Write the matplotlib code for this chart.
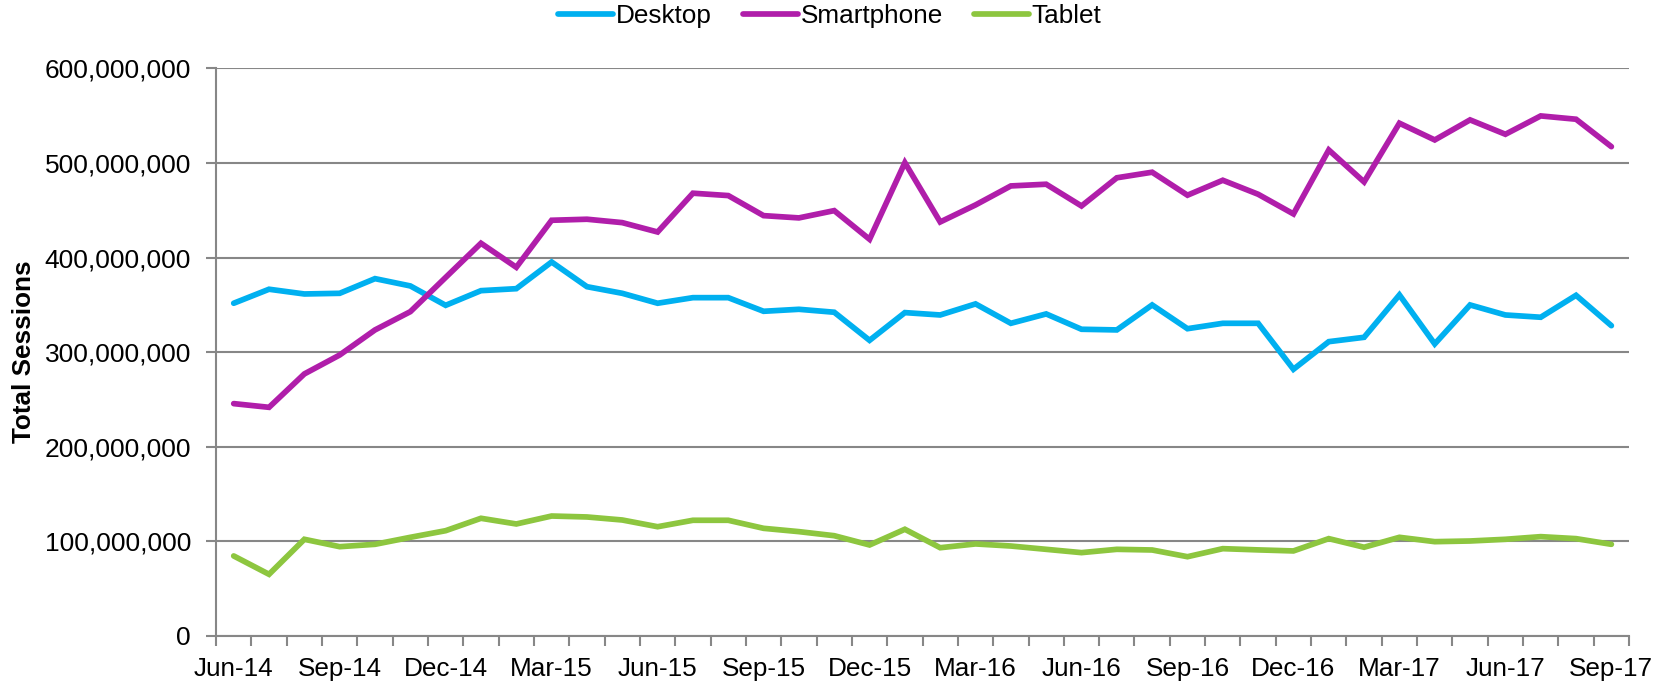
import matplotlib.pyplot as plt
import matplotlib.ticker as mticker
import numpy as np

plt.rcParams['font.family'] = ['Liberation Sans', 'DejaVu Sans']

months = ['Jun-14', 'Jul-14', 'Aug-14', 'Sep-14', 'Oct-14', 'Nov-14', 'Dec-14', 'Jan-15',
          'Feb-15', 'Mar-15', 'Apr-15', 'May-15', 'Jun-15', 'Jul-15', 'Aug-15', 'Sep-15',
          'Oct-15', 'Nov-15', 'Dec-15', 'Jan-16', 'Feb-16', 'Mar-16', 'Apr-16', 'May-16',
          'Jun-16', 'Jul-16', 'Aug-16', 'Sep-16', 'Oct-16', 'Nov-16', 'Dec-16', 'Jan-17',
          'Feb-17', 'Mar-17', 'Apr-17', 'May-17', 'Jun-17', 'Jul-17', 'Aug-17', 'Sep-17']

# sessions, millions
desktop = [351.7, 366.5, 361.5, 362.2, 377.7, 370.0, 349.5, 365.0, 367.1, 395.3,
           369.2, 362.2, 351.7, 357.6, 357.6, 343.2, 345.3, 342.2, 312.5, 341.8,
           339.3, 351.0, 330.5, 340.4, 324.2, 323.5, 349.9, 324.8, 330.5, 330.5,
           281.9, 311.1, 315.7, 360.5, 308.7, 349.9, 339.3, 336.9, 360.1, 328.0]
smartphone = [245.6, 241.7, 277.0, 297.0, 323.5, 342.8, 379.0, 415.1, 389.7, 439.4,
              440.5, 436.9, 427.0, 468.0, 465.5, 444.3, 441.9, 449.6, 419.3, 500.3,
              437.6, 455.6, 475.7, 477.5, 454.5, 484.3, 490.2, 465.9, 481.7, 466.9,
              446.1, 513.7, 479.9, 542.0, 524.3, 545.5, 530.3, 549.7, 546.2, 517.2]
tablet = [84.6, 65.2, 102.2, 94.4, 96.9, 104.3, 111.3, 124.4, 118.4, 126.8,
          125.8, 122.6, 115.5, 122.3, 122.3, 113.8, 110.3, 106.0, 96.2, 112.8,
          93.3, 97.3, 95.1, 91.6, 88.1, 91.6, 90.9, 83.8, 92.3, 91.0,
          89.9, 102.9, 93.8, 104.3, 99.7, 100.4, 102.2, 105.0, 102.9, 96.9]

series = [('Desktop', desktop, '#00B0F0'),
          ('Smartphone', smartphone, '#B01EAA'),
          ('Tablet', tablet, '#8DC63F')]

fig = plt.figure(figsize=(16.53, 6.86), dpi=100)
ax = fig.add_axes([0.1307, 0.0729, 0.9855 - 0.1307, 0.9004 - 0.0729])

x = np.arange(len(months))
for name, vals, col in series:
    ax.plot(x, np.array(vals) * 1e6, color=col, lw=4.1, label=name,
            solid_joinstyle='miter', solid_capstyle='round')

grey = '#878787'
ax.set_xlim(-0.5, len(months) - 0.5)
ax.set_ylim(0, 600e6)
ax.yaxis.set_major_locator(mticker.MultipleLocator(100e6))
ax.yaxis.set_major_formatter(mticker.FuncFormatter(lambda v, p: f'{int(v):,}'))
ax.grid(axis='y', color=grey, lw=1.5)
ax.set_axisbelow(True)

# tick marks at category boundaries, labels every 3rd month
ax.set_xticks(np.arange(-0.5, len(months)))
ax.set_xticklabels([])
ax.set_xticks(x[::3], minor=True)
ax.set_xticklabels(months[::3], minor=True)
ax.tick_params(axis='x', which='major', length=7, width=1.5, color=grey)
ax.tick_params(axis='x', which='minor', length=0, pad=15, labelsize=18.8)
ax.tick_params(axis='y', length=7, width=1.5, color=grey, labelsize=19, pad=11)

for s in ['top', 'right']:
    ax.spines[s].set_visible(False)
for s in ['left', 'bottom']:
    ax.spines[s].set_color(grey)
    ax.spines[s].set_linewidth(1.5)

fig.text(0.0145, 0.487, 'Total Sessions', rotation=90, fontsize=18.8,
         fontweight='bold', ha='center', va='center')

fig.legend(loc='center', bbox_to_anchor=(0.502, 0.976), ncol=3, frameon=False,
           fontsize=18.8, handlelength=2.1, handletextpad=0.1, columnspacing=1.2)

fig.savefig('out.png', dpi=100)
